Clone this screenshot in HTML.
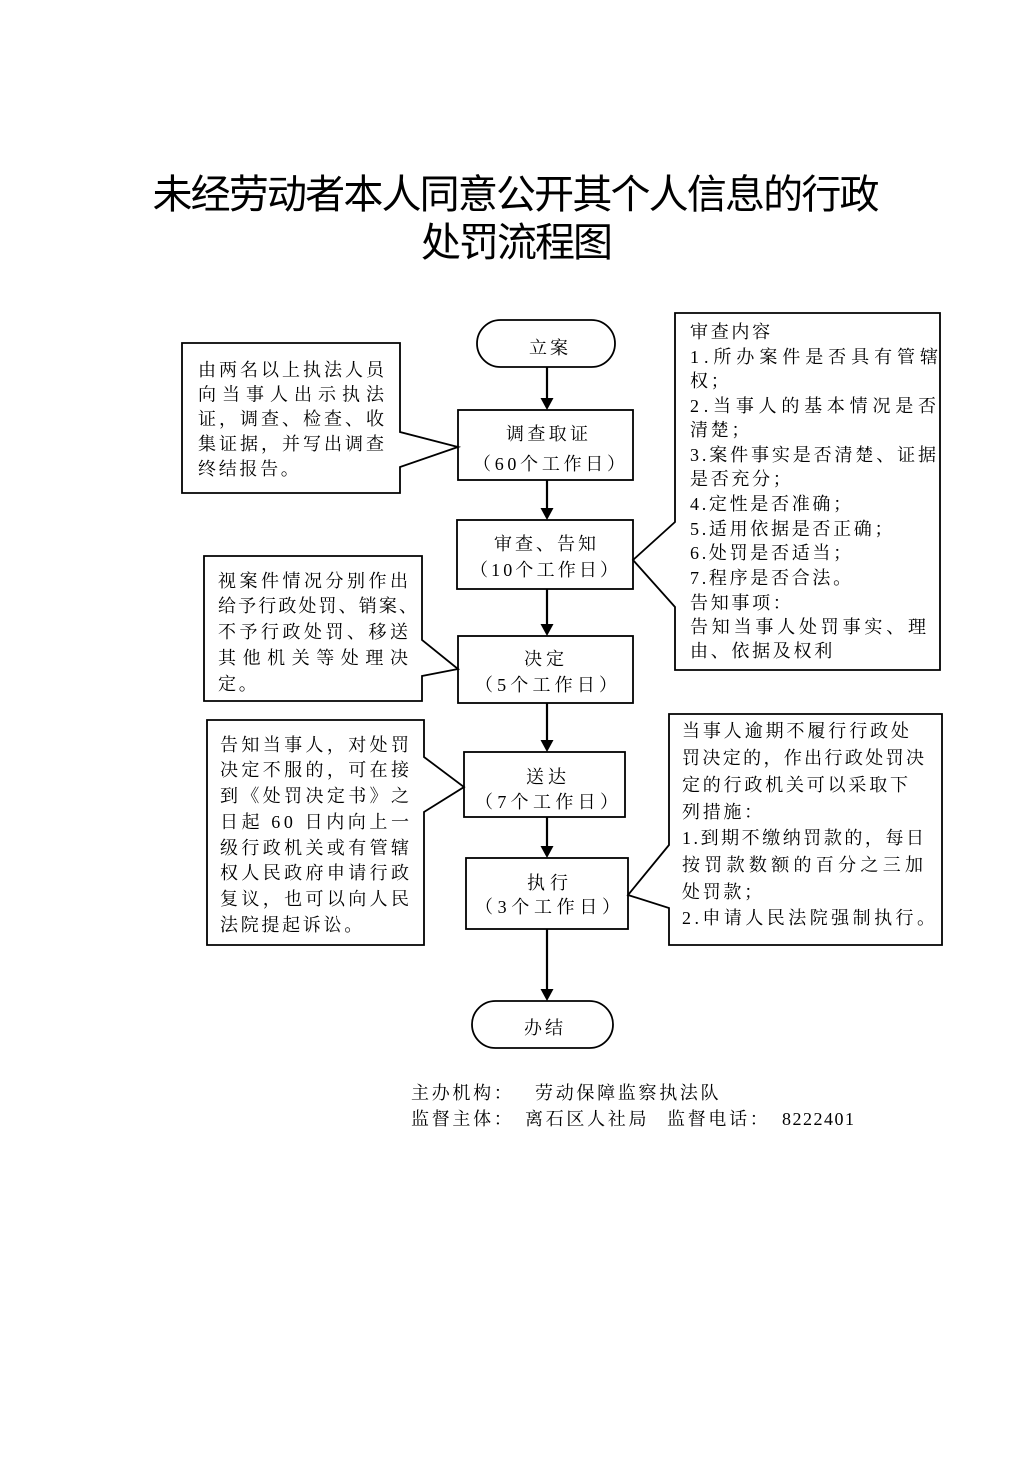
<!DOCTYPE html>
<html lang="zh-CN">
<head>
<meta charset="utf-8">
<title>未经劳动者本人同意公开其个人信息的行政处罚流程图</title>
<style>
  html,body{margin:0;padding:0;background:#fff;}
  body{width:1033px;height:1460px;overflow:hidden;}
  svg{display:block;}
  .t{font-family:"Liberation Serif","Noto Serif CJK SC",serif;font-size:18px;fill:#000;}
  .n{letter-spacing:2.7px;}
  .h{font-family:"Liberation Sans","Noto Sans CJK SC",sans-serif;font-size:40px;font-weight:400;fill:#000;}
</style>
</head>
<body>
<svg width="1033" height="1460" viewBox="0 0 1033 1460" xmlns="http://www.w3.org/2000/svg">
  <rect x="0" y="0" width="1033" height="1460" fill="#fff"/>

  <!-- Title -->
  <text class="h" x="516" y="208" text-anchor="middle" textLength="727" lengthAdjust="spacing">未经劳动者本人同意公开其个人信息的行政</text>
  <text class="h" x="517" y="256" text-anchor="middle" textLength="192" lengthAdjust="spacing">处罚流程图</text>

  <!-- Shapes -->
  <g fill="none" stroke="#000" stroke-width="1.8" stroke-linejoin="miter">
    <rect x="477" y="320" width="138" height="47" rx="23.5" ry="23.5"/>
    <rect x="458" y="410" width="175" height="70"/>
    <rect x="457" y="520" width="176" height="69"/>
    <rect x="458" y="636" width="175" height="67"/>
    <rect x="464" y="752" width="161" height="65"/>
    <rect x="466" y="858" width="162" height="71"/>
    <rect x="472" y="1001" width="141" height="47" rx="23.5" ry="23.5"/>
    <path d="M182,343H400V432L458,447L400,467V493H182Z"/>
    <path d="M675,313H940V670H675V607L633,560L675,522Z"/>
    <path d="M204,556H422V640L458,669L422,676V701H204Z"/>
    <path d="M207,720H424V757L464,787L424,812V945H207Z"/>
    <path d="M669,714H942V945H669V908L628,895L669,845Z"/>
  </g>

  <!-- Arrows -->
  <g stroke="#000" stroke-width="2.2">
    <line x1="547" y1="367" x2="547" y2="399"/>
    <line x1="547" y1="480" x2="547" y2="509"/>
    <line x1="547" y1="589" x2="547" y2="625"/>
    <line x1="547" y1="703" x2="547" y2="741"/>
    <line x1="547" y1="817" x2="547" y2="847"/>
    <line x1="547" y1="929" x2="547" y2="990"/>
  </g>
  <g fill="#000">
    <polygon points="540.5,398 553.5,398 547,410"/>
    <polygon points="540.5,508 553.5,508 547,520"/>
    <polygon points="540.5,624 553.5,624 547,636"/>
    <polygon points="540.5,740 553.5,740 547,752"/>
    <polygon points="540.5,846 553.5,846 547,858"/>
    <polygon points="540.5,989 553.5,989 547,1001"/>
  </g>

  <!-- Center labels -->
  <g class="t" text-anchor="middle">
    <text x="548.5" y="354" textLength="39" lengthAdjust="spacing">立案</text>
    <text x="547" y="440" textLength="82" lengthAdjust="spacing">调查取证</text>
    <text x="549" y="470" textLength="152" lengthAdjust="spacing">（60个工作日）</text>
    <text x="545" y="550" textLength="102" lengthAdjust="spacing">审查、告知</text>
    <text x="544" y="576" textLength="148" lengthAdjust="spacing">（10个工作日）</text>
    <text x="544" y="665" textLength="40" lengthAdjust="spacing">决定</text>
    <text x="546" y="691" textLength="142" lengthAdjust="spacing">（5个工作日）</text>
    <text x="546" y="783" textLength="40" lengthAdjust="spacing">送达</text>
    <text x="546.5" y="808" textLength="143" lengthAdjust="spacing">（7个工作日）</text>
    <text x="547.5" y="889" textLength="41" lengthAdjust="spacing">执行</text>
    <text x="547.5" y="913" textLength="145" lengthAdjust="spacing">（3个工作日）</text>
    <text x="543.5" y="1034" textLength="39" lengthAdjust="spacing">办结</text>
  </g>

  <!-- Left box 1 -->
  <g class="t">
    <text x="198" y="376" textLength="186" lengthAdjust="spacing">由两名以上执法人员</text>
    <text x="198" y="400.5" textLength="186" lengthAdjust="spacing">向当事人出示执法</text>
    <text x="198" y="425" textLength="186" lengthAdjust="spacing">证，调查、检查、收</text>
    <text x="198" y="450" textLength="186" lengthAdjust="spacing">集证据，并写出调查</text>
    <text class="t n" x="198" y="475">终结报告。</text>
  </g>

  <!-- Left box 2 -->
  <g class="t">
    <text x="218" y="587" textLength="190" lengthAdjust="spacing">视案件情况分别作出</text>
    <text x="218" y="612" textLength="199" lengthAdjust="spacing">给予行政处罚、销案、</text>
    <text x="218" y="638" textLength="190" lengthAdjust="spacing">不予行政处罚、移送</text>
    <text x="218" y="664" textLength="190" lengthAdjust="spacing">其他机关等处理决</text>
    <text class="t n" x="218" y="690">定。</text>
  </g>

  <!-- Left box 3 -->
  <g class="t">
    <text x="220" y="751" textLength="189" lengthAdjust="spacing">告知当事人，对处罚</text>
    <text x="220" y="776" textLength="189" lengthAdjust="spacing">决定不服的，可在接</text>
    <text x="220" y="802" textLength="189" lengthAdjust="spacing">到《处罚决定书》之</text>
    <text x="220" y="828" textLength="189" lengthAdjust="spacing">日起 60 日内向上一</text>
    <text x="220" y="854" textLength="189" lengthAdjust="spacing">级行政机关或有管辖</text>
    <text x="220" y="879" textLength="189" lengthAdjust="spacing">权人民政府申请行政</text>
    <text x="220" y="905" textLength="189" lengthAdjust="spacing">复议，也可以向人民</text>
    <text class="t n" x="220" y="931">法院提起诉讼。</text>
  </g>

  <!-- Right box 1 -->
  <g class="t">
    <text class="t n" x="690" y="338">审查内容</text>
    <text x="690" y="363" textLength="248" lengthAdjust="spacing">1.所办案件是否具有管辖</text>
    <text class="t n" x="690" y="387">权；</text>
    <text x="690" y="412" textLength="246" lengthAdjust="spacing">2.当事人的基本情况是否</text>
    <text class="t n" x="690" y="436">清楚；</text>
    <text x="690" y="461" textLength="246" lengthAdjust="spacing">3.案件事实是否清楚、证据</text>
    <text class="t n" x="690" y="485">是否充分；</text>
    <text class="t n" x="690" y="510">4.定性是否准确；</text>
    <text class="t n" x="690" y="535">5.适用依据是否正确；</text>
    <text class="t n" x="690" y="559">6.处罚是否适当；</text>
    <text class="t n" x="690" y="584">7.程序是否合法。</text>
    <text class="t n" x="690" y="609">告知事项：</text>
    <text x="690" y="633" textLength="236" lengthAdjust="spacing">告知当事人处罚事实、理</text>
    <text class="t n" x="690" y="657">由、依据及权利</text>
  </g>

  <!-- Right box 2 -->
  <g class="t">
    <text x="682" y="737" textLength="227" lengthAdjust="spacing">当事人逾期不履行行政处</text>
    <text x="682" y="764" textLength="242" lengthAdjust="spacing">罚决定的，作出行政处罚决</text>
    <text x="682" y="791" textLength="226" lengthAdjust="spacing">定的行政机关可以采取下</text>
    <text class="t n" x="682" y="818">列措施：</text>
    <text x="682" y="844" textLength="242" lengthAdjust="spacing">1.到期不缴纳罚款的，每日</text>
    <text x="682" y="871" textLength="241" lengthAdjust="spacing">按罚款数额的百分之三加</text>
    <text class="t n" x="682" y="898">处罚款；</text>
    <text x="682" y="924" textLength="253" lengthAdjust="spacing">2.申请人民法院强制执行。</text>
  </g>

  <!-- Footer -->
  <g class="t">
    <text class="t n" x="411" y="1099">主办机构：</text>
    <text class="t n" x="535" y="1099">劳动保障监察执法队</text>
    <text class="t n" x="411" y="1125">监督主体：</text>
    <text class="t n" x="525" y="1125">离石区人社局</text>
    <text class="t n" x="667" y="1125">监督电话：</text>
    <text x="782" y="1125" textLength="72" lengthAdjust="spacing">8222401</text>
  </g>
</svg>
</body>
</html>
